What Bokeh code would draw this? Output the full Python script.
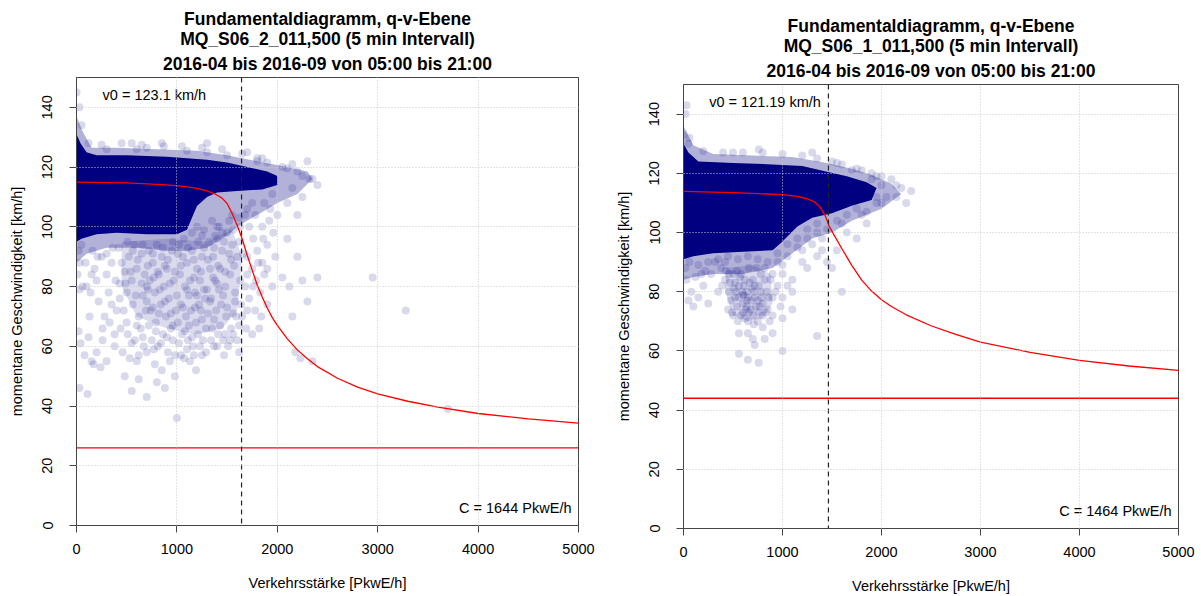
from bokeh.plotting import figure
from bokeh.models import Range1d, Label, Span, Title, Spacer
from bokeh.layouts import row, column
from bokeh.embed import file_html
from bokeh.resources import INLINE

# ---------------- data: left panel (MQ_S06_2_011,500) ----------------
L_title2 = "MQ_S06_2_011,500 (5 min Intervall)"
L_v0 = 123.1
L_C = 1644
L_vmin = 26
# fitted model curve
L_curve_q = [0, 500, 800, 1000, 1100, 1200, 1300, 1380, 1450, 1500, 1550, 1600, 1650, 1700, 1750, 1800, 1850, 1900,
             1950, 2000, 2100, 2200, 2300, 2400, 2600, 2800, 3000, 3300, 3600, 4000, 4500, 5000]
L_curve_v = [115, 114.7, 114.2, 113.8, 113.4, 112.9, 112.0, 111.0, 109.6, 107.8, 104.5, 100.5, 96, 90.5, 85.5, 80.5, 76.5, 72.8,
             69.6, 67, 62.5, 58.8, 55.8, 53.2, 49.3, 46.3, 44.1, 41.6, 39.6, 37.5, 35.7, 34.3]
# saturated core of the point cloud (outline)
L_core_q = [0, 40, 100, 200, 500, 900, 1100, 1300, 1500, 1700, 1900, 2000, 2000, 1850, 1600, 1400, 1300, 1200, 1150, 1100, 1000, 700, 400, 200, 50, 0]
L_core_v = [131, 128, 125, 124, 124, 123.5, 123, 122.5, 121.5, 120, 118.5, 117, 114, 112.5, 112, 111.5, 110, 107, 103, 99, 97.5, 97.5, 98, 97.5, 96, 95]
# half-dense halo around the core
L_halo_q = [0, 60, 150, 400, 800, 1200, 1500, 1800, 2100, 2300, 2350, 2200, 2000, 1800, 1600, 1500, 1300, 1100, 900, 600, 300, 100, 0]
L_halo_v = [137, 132, 126.5, 126.5, 126, 125.5, 124, 122, 120, 118.5, 116, 111, 108, 104, 100, 97, 93, 92, 92, 93, 93, 91, 88]
# medium-density zone below the core
L_mid_q = [450, 900, 1300, 1550, 1650, 1600, 1450, 1200, 900, 600, 450]
L_mid_v = [95, 96, 95, 99, 90, 72, 66, 64, 66, 70, 80]
# individual (sparse) measurements
L_pts_q = [20, 30, 10, 60, 100, 30, 140, 20, 40, 80, 30, 110, 150, 120,
           180, 200, 250, 300, 350, 220, 280, 330, 260, 200, 300, 380, 350, 240, 170, 320, 390,
           420, 450, 480, 520, 550, 600, 650, 680, 430, 470, 500, 560, 620, 660, 440, 510, 580, 640, 460, 530, 600, 670, 700, 620, 480, 550, 690, 700, 580,
           720, 760, 800, 850, 900, 950, 730, 780, 820, 870, 920, 970, 740, 790, 840, 890, 940, 990, 750, 810, 860, 910, 960, 780, 850, 930, 1000, 980, 880, 800,
           1020, 1060, 1100, 1150, 1200, 1250, 1030, 1080, 1130, 1180, 1230, 1280, 1040, 1090, 1140, 1190, 1240, 1290, 1050, 1110, 1160, 1210, 1260, 1070, 1130, 1190, 1250, 1010, 1120, 1220,
           1320, 1360, 1400, 1450, 1500, 1550, 1600, 1330, 1380, 1430, 1480, 1530, 1580, 1630, 1340, 1390, 1440, 1490, 1540, 1590, 1640, 1350, 1410, 1460, 1510, 1560, 1620, 1370, 1470, 1600, 1420, 1520, 1350, 1630,
           1680, 1720, 1760, 1800, 1850, 1900, 1700, 1750, 1790, 1830, 1870, 1680, 1720, 1780, 1840, 1900, 1950, 1690, 1750, 1820, 1960, 2000, 1930, 1870, 1980,
           2050, 2120, 2250, 2400, 2300, 2180, 2230, 2350, 2100, 2200, 2150, 2950, 3280, 3700, 2250, 2320, 2400, 2200, 2100,
           0, 30, 550, 870, 1300, 1700, 1800, 2300, 2150,
           510, 560, 610, 660, 710, 760, 810, 860, 910, 960, 1010, 1070, 1110, 1170, 1210, 1270, 1310, 1370, 1410, 1470,
           1520, 1570, 1620, 1660, 1540, 1480, 1420, 1360, 1300, 1240, 1170, 1100, 1040, 980, 930, 880, 830, 770, 710, 650,
           590, 540, 490, 700, 760, 820, 880, 940, 1000, 1060, 1120, 1180, 1250, 1310, 1370, 1430, 1500, 1560, 1620, 1580,
           1460, 1400, 1330, 1270, 1200, 1150, 1080, 1020, 960, 900, 840, 790, 720, 660, 600, 550, 500, 620, 700, 770,
           980, 1040, 1100, 1170, 1230, 1290, 1340, 1400, 1480, 1530, 1650, 1700, 1700, 1760, 1810, 1860, 1900, 1450, 1380, 1560,
           1620, 1700, 1780, 1850, 1920, 1270, 1200, 1150, 900, 700,
           130, 260, 400, 380, 150, 210, 360, 430, 300, 90, 50, 160,
           300, 700, 1100, 1500, 1900, 2100, 2250, 1800, 1300, 600,
           50, 120, 250, 450, 650, 850, 1050, 1250, 1450, 1650, 1850, 2050, 2200, 2350, 2150, 1950, 1750, 1550, 1400, 1250]
L_pts_v = [92, 88, 84, 80, 80, 79, 78, 65, 61, 57, 46, 44, 55, 63,
           86, 82, 90, 84, 88, 75, 70, 68, 62, 58, 55, 60, 74, 53, 54, 78, 82,
           93, 88, 85, 90, 82, 86, 91, 84, 76, 72, 78, 74, 70, 77, 66, 64, 62, 66, 58, 56, 55, 60, 43, 49, 50, 45, 72, 80, 94,
           92, 88, 94, 90, 86, 92, 82, 78, 84, 80, 76, 82, 72, 68, 74, 70, 66, 72, 62, 60, 64, 58, 62, 54, 52, 55, 36, 50, 46, 48,
           94, 90, 88, 92, 86, 90, 84, 80, 82, 78, 82, 76, 74, 70, 72, 68, 72, 66, 64, 62, 60, 64, 62, 56, 55, 52, 57, 68, 77, 74,
           95, 90, 96, 92, 98, 94, 90, 86, 82, 86, 80, 84, 78, 82, 76, 72, 74, 70, 66, 70, 74, 66, 64, 62, 60, 64, 58, 60, 57, 62, 100, 102, 102, 100,
           104, 100, 96, 92, 88, 94, 90, 86, 82, 78, 84, 80, 76, 72, 70, 74, 80, 66, 64, 66, 98, 104, 106, 108, 90,
           83, 80, 82, 83, 75, 58, 56, 55, 96, 90, 70, 83, 72, 39, 110, 116, 114, 104, 108,
           145, 140, 128, 127, 128, 125, 123, 122, 121,
           95, 92, 89, 94, 87, 91, 85, 93, 89, 95, 91, 96, 93, 89, 95, 93, 89, 93, 87, 95,
           91, 87, 95, 91, 89, 85, 79, 83, 79, 85, 83, 79, 87, 85, 81, 87, 79, 83, 79, 81,
           77, 85, 81, 75, 73, 71, 75, 71, 77, 73, 67, 73, 69, 71, 69, 67, 73, 71, 67, 75,
           77, 81, 75, 79, 77, 63, 65, 61, 67, 63, 61, 65, 67, 63, 67, 61, 68, 57, 58, 59,
           57, 57, 59, 57, 60, 58, 62, 60, 64, 62, 70, 84, 72, 80, 88, 96, 86, 98, 97, 99,
           103, 106, 104, 100, 102, 99, 100, 98, 99, 99,
           70, 66, 72, 64, 84, 90, 93, 81, 91, 88, 94, 92,
           126, 126.5, 125.5, 124, 121.5, 119.5, 117, 122, 125, 126,
           134, 128, 127.5, 128, 127.5, 128, 127, 126.5, 126, 124.5, 123, 120, 118.5, 116, 113, 111, 108, 104, 100, 97]

# ---------------- data: right panel (MQ_S06_1_011,500) ----------------
R_title2 = "MQ_S06_1_011,500 (5 min Intervall)"
R_v0 = 121.19
R_C = 1464
R_vmin = 44
R_curve_q = [0, 500, 1000, 1150, 1250, 1320, 1380, 1430, 1470, 1520, 1600, 1700, 1800, 1900, 2000, 2100, 2250, 2500,
             2750, 3000, 3500, 4000, 4500, 5000]
R_curve_v = [113.9, 113.5, 112.8, 112.2, 111.4, 110.4, 108.6, 105.8, 102.3, 99.2, 94.5, 88.9, 83.9, 80.2, 77.3, 75, 72.2, 68.5,
             65.6, 63, 59.5, 56.8, 54.9, 53.4]
R_core_q = [0, 50, 150, 500, 900, 1200, 1450, 1650, 1850, 1950, 1900, 1700, 1500, 1300, 1150, 1000, 900, 600, 300, 100, 0]
R_core_v = [130, 127, 124, 123.5, 123, 122.5, 120.5, 119, 117, 115, 111, 109, 106.5, 105, 102, 97, 94, 93.5, 93, 92, 91]
R_halo_q = [0, 100, 300, 700, 1100, 1450, 1700, 1900, 2100, 2200, 2000, 1700, 1500, 1300, 1100, 900, 600, 300, 100, 0]
R_halo_v = [136, 129.5, 126.5, 126, 125.5, 123.5, 121.5, 119.5, 116.5, 113, 108, 104, 100, 98, 93, 88, 86, 86, 85, 84]
R_mid_q = [430, 700, 880, 900, 800, 650, 500, 420]
R_mid_v = [88, 89, 86, 76, 71, 70, 72, 80]
R_pts_q = [30, 80, 150, 200, 250, 100, 50, 280, 20, 180,
           420, 460, 500, 520, 560, 600, 640, 680, 720, 760, 800, 840, 880, 450, 500, 550, 600, 650, 700, 750, 800, 580, 620, 660, 700, 740, 540, 610, 690, 770, 850, 480, 520, 640, 720, 780, 660, 560, 590, 630, 900, 950,
           800, 900, 700, 560, 650, 760, 1000, 1100, 1350, 1600, 1550, 1450, 1350, 1250, 1500, 1100, 1200, 1650, 1850, 1750, 2300, 2150, 2100, 2000, 30, 20, 760, 500, 1300, 1800, 1900, 1600, 1100, 1000, 950, 1300, 1400, 380, 320, 420, 1050, 1150, 1250, 1000, 0, 50,
           430, 470, 510, 540, 570, 610, 650, 670, 710, 730, 790, 820, 860, 870, 830, 760, 710, 620, 580, 530,
           490, 600, 640, 680, 750, 780, 820, 900, 930, 460, 390, 350, 560, 650, 720, 820, 900, 1000, 1050, 980,
           60, 150, 250, 350, 450, 550, 650, 750, 850, 950, 1050, 1150, 1250, 1350, 1450, 1550, 1650, 1750, 1850, 1950,
           2050, 1400, 1200, 1000, 120, 220,
           1500, 1700, 1900, 2000, 1950, 2200, 2250, 1800,
           60, 200, 400, 600, 800, 1000, 1200, 1350, 1550, 1750, 1950, 2150, 2000, 1800, 1600, 1350]
R_pts_v = [84, 80, 78, 82, 76, 75, 77, 86, 88, 86,
           84, 80, 86, 78, 82, 76, 80, 74, 78, 82, 76, 80, 84, 74, 72, 70, 73, 70, 72, 70, 72, 86, 84, 88, 84, 88, 75, 79, 81, 75, 74, 77, 83, 77, 82, 80, 73, 78, 80, 74, 78, 82,
           68, 66, 64, 59, 57, 56, 71, 74, 65, 80, 94, 90, 92, 88, 88, 84, 90, 100, 103, 98, 114, 112, 118, 119, 143, 140, 128, 127, 127, 121, 120, 123, 80, 86, 90, 96, 98, 88, 90, 90, 92, 95, 98, 60, 133, 130,
           87, 83, 81, 87, 85, 82, 78, 83, 80, 75, 78, 84, 78, 70, 73, 73, 69, 71, 72, 80,
           73, 79, 75, 77, 77, 86, 88, 86, 80, 86, 82, 80, 66, 66, 62, 64, 72, 78, 82, 75,
           90, 89, 90, 91, 92, 91, 92, 91, 90, 93, 96, 98, 101, 103, 101, 104, 106, 108, 107, 110,
           112, 94, 94, 89, 85, 87,
           124, 121, 118, 116, 112, 115, 110, 112,
           132, 127.5, 127, 127, 127, 126.5, 126, 125, 123.5, 121.5, 119, 116, 110, 106, 103, 100]

TITLE1 = "Fundamentaldiagramm, q-v-Ebene"
TITLE3 = "2016-04 bis 2016-09 von 05:00 bis 21:00"
XLABEL = "Verkehrsstärke [PkwE/h]"
YLABEL = "momentane Geschwindigkeit [km/h]"
X_TICKS = [0, 1000, 2000, 3000, 4000, 5000]
Y_TICKS = [0, 20, 40, 60, 80, 100, 120, 140]

FONT = "Liberation Sans"
NAVY = "#000080"
FRAME = "#444444"
TXT = "14.5px"


def panel(width, height, b_left, b_right, b_top, b_bottom, title2, v0, C, vmin,
          cq, cv, coreq, corev, haloq, halov, midq, midv, pq, pv):
    p = figure(width=width, height=height, output_backend="svg", toolbar_location=None,
               x_range=Range1d(0, 5000), y_range=Range1d(0, 150),
               min_border_left=b_left, min_border_right=b_right,
               min_border_top=b_top, min_border_bottom=b_bottom)
    p.background_fill_color = "white"
    p.border_fill_color = "white"
    p.outline_line_color = FRAME
    p.outline_line_width = 1

    # three-line title (added nearest-first)
    for t, so in [(TITLE3, 7), (title2, -1), (TITLE1, -2)]:
        p.add_layout(Title(text=t, align="center", text_font=FONT, text_font_size="17.5px",
                           text_font_style="bold", text_color="black", standoff=so, offset=0), "above")

    # axes
    p.xaxis.ticker = X_TICKS
    p.yaxis.ticker = Y_TICKS
    for ax in (p.xaxis[0], p.yaxis[0]):
        ax.axis_line_color = FRAME
        ax.major_tick_line_color = FRAME
        ax.major_tick_out = 7
        ax.major_tick_in = 0
        ax.minor_tick_line_color = None
        ax.major_label_text_font = FONT
        ax.major_label_text_font_size = TXT
        ax.major_label_text_color = "black"
        ax.axis_label_text_font = FONT
        ax.axis_label_text_font_size = TXT
        ax.axis_label_text_font_style = "normal"
        ax.axis_label_text_color = "black"
    p.xaxis.axis_label = XLABEL
    p.yaxis.axis_label = YLABEL
    p.xaxis.major_label_standoff = 11
    p.xaxis.axis_label_standoff = 18
    p.yaxis.major_label_orientation = "vertical"
    p.yaxis.major_label_standoff = 17
    p.yaxis.axis_label_standoff = 15

    # grid (drawn above the points, like in the reference)
    for g in (p.xgrid[0], p.ygrid[0]):
        g.grid_line_color = "#c8c8c8"
        g.grid_line_dash = "1 2"
        g.grid_line_width = 1
        g.level = "overlay"

    # point cloud
    p.patch(midq, midv, fill_color=NAVY, fill_alpha=0.14, line_color=None)
    p.patch(haloq, halov, fill_color=NAVY, fill_alpha=0.3, line_color=None)
    p.patch(coreq, corev, fill_color=NAVY, fill_alpha=1.0, line_color=None)
    p.scatter(pq, pv, size=8, fill_color=NAVY, fill_alpha=0.15, line_color=None)

    # model curve and reference lines
    p.line(cq, cv, line_color="red", line_width=1.3)
    p.add_layout(Span(location=vmin, dimension="width", line_color="red", line_width=1.3))
    p.add_layout(Span(location=C, dimension="height", line_color="#222222", line_width=1.2, line_dash="5 4"))

    p.add_layout(Label(x=260, y=144, text=f"v0 = {v0} km/h", text_font=FONT, text_font_size=TXT,
                       text_baseline="middle", text_align="left", text_color="black"))
    p.add_layout(Label(x=4930, y=6, text=f"C = {C} PkwE/h", text_font=FONT, text_font_size=TXT,
                       text_baseline="middle", text_align="right", text_color="black"))
    return p


left = panel(600, 596, 76, 22, 77, 71, L_title2, L_v0, L_C, L_vmin,
             L_curve_q, L_curve_v, L_core_q, L_core_v, L_halo_q, L_halo_v, L_mid_q, L_mid_v, L_pts_q, L_pts_v)
right = panel(601, 589, 83, 23, 77, 68, R_title2, R_v0, R_C, R_vmin,
              R_curve_q, R_curve_v, R_core_q, R_core_v, R_halo_q, R_halo_v, R_mid_q, R_mid_v, R_pts_q, R_pts_v)

layout = row(left, column(Spacer(width=601, height=7), right, spacing=0), spacing=0)
open("out.html", "w").write(file_html(layout, INLINE))
